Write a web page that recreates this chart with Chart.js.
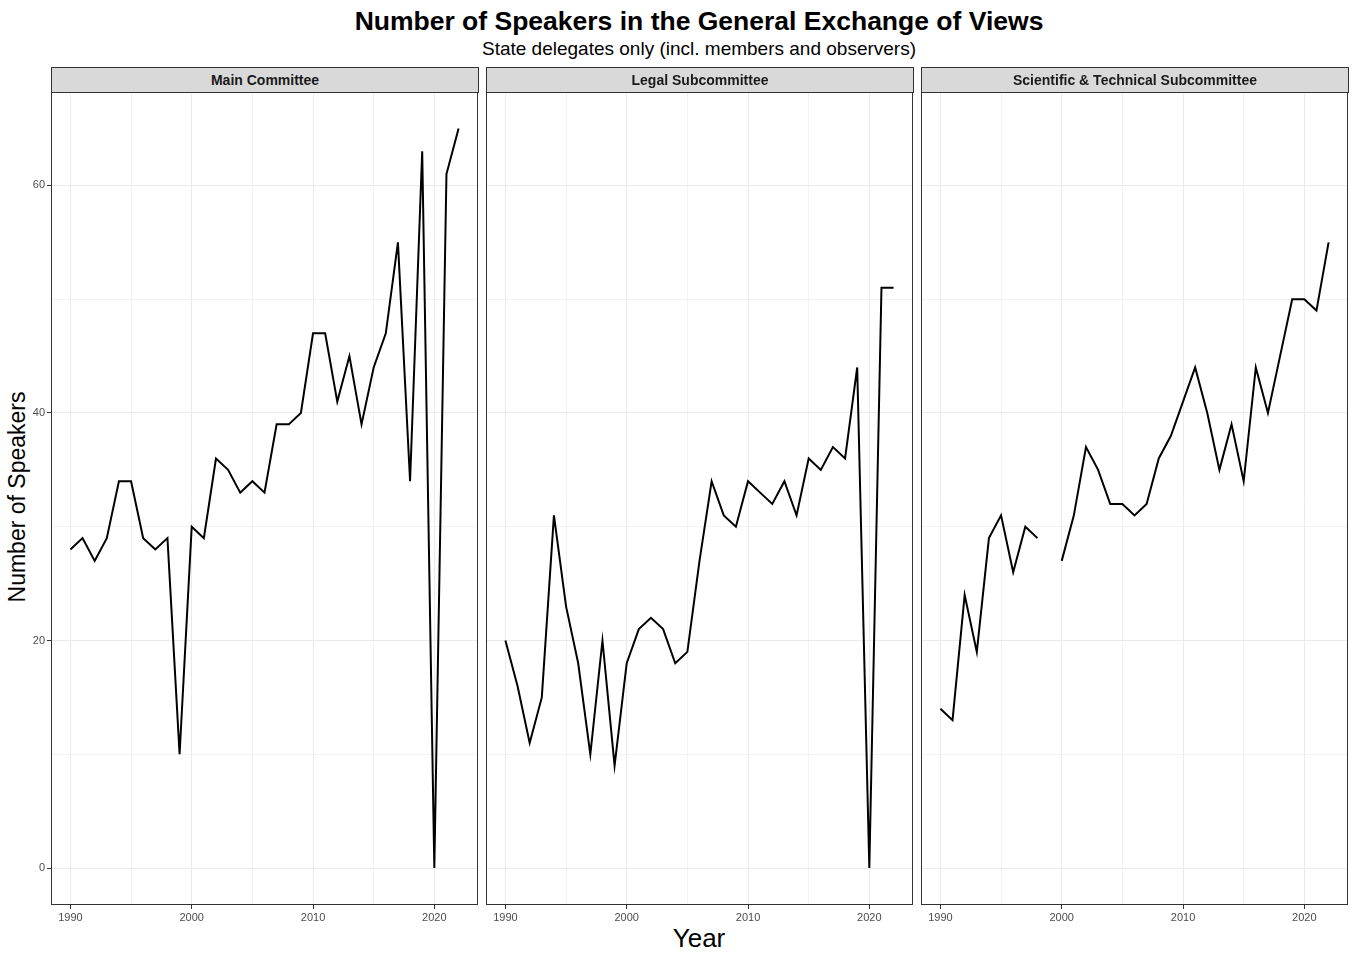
<!DOCTYPE html>
<html>
<head>
<meta charset="utf-8">
<script src="https://cdn.jsdelivr.net/npm/chart.js@4/dist/chart.umd.min.js"></script>
<style>
  html, body { margin:0; padding:0; background:#fff; }
  body { width:1352px; height:954px; position:relative; overflow:hidden; font-family:"Liberation Sans", Arial, sans-serif; }
  .abs { position:absolute; }
  .title { left:199px; width:1000px; top:6px; line-height:30px; font-size:26.5px; font-weight:bold; text-align:center; color:#000; }
  .subtitle { left:199px; width:1000px; top:38px; line-height:22px; font-size:19px; text-align:center; color:#000; }
  .strip { top:67px; height:26px; box-sizing:border-box; border:1px solid #333; background:#d9d9d9; font-size:14px; font-weight:bold; text-align:center; line-height:24px; color:#1a1a1a; z-index:2; }
  .ytitle { left:-183px; top:482px; width:400px; height:30px; line-height:30px; font-size:23px; text-align:center; transform:rotate(-90deg); color:#000; }
  .xtitle { left:599px; width:200px; top:923px; line-height:30px; font-size:26px; text-align:center; color:#000; }
  canvas { position:absolute; }
</style>
</head>
<body>
<div class="abs title">Number of Speakers in the General Exchange of Views</div>
<div class="abs subtitle">State delegates only (incl. members and observers)</div>
<div class="abs strip" style="left:51px;width:428px;">Main Committee</div>
<div class="abs strip" style="left:486px;width:428px;">Legal Subcommittee</div>
<div class="abs strip" style="left:921px;width:428px;">Scientific &amp; Technical Subcommittee</div>
<div class="abs ytitle">Number of Speakers</div>
<div class="abs xtitle">Year</div>

<div style="position:absolute;left:0;top:83px;width:483px;height:854px;"><canvas id="c1"></canvas></div>
<div style="position:absolute;left:483px;top:83px;width:435px;height:854px;"><canvas id="c2"></canvas></div>
<div style="position:absolute;left:918px;top:83px;width:434px;height:854px;"><canvas id="c3"></canvas></div>

<script>
const years = [1990,1991,1992,1993,1994,1995,1996,1997,1998,1999,
               2000,2001,2002,2003,2004,2005,2006,2007,2008,2009,
               2010,2011,2012,2013,2014,2015,2016,2017,2018,2019,
               2020,2021,2022];
const mainCommittee = [28,29,27,29,34,34,29,28,29,10,
                       30,29,36,35,33,34,33,39,39,40,
                       47,47,41,45,39,44,47,55,34,63,
                       0,61,65];
const legalSubcommittee = [20,16,11,15,31,23,18,10,20,9,
                           18,21,22,21,18,19,27,34,31,30,
                           34,33,32,34,31,36,35,37,36,44,
                           0,51,51];
const sciTechSubcommittee = [14,13,24,19,29,31,26,30,29,null,
                             27,31,37,35,32,32,31,32,36,38,
                             41,44,40,35,39,34,44,40,45,50,
                             50,49,55];
const xMajorTicks = [1990,2000,2010,2020];
const xMinorTicks = [1995,2005,2015];
const yMajorTicks = [0,20,40,60];
const yMinorTicks = [10,30,50];

const FONT = '"Liberation Sans", Arial, sans-serif';

const borderPlugin = {
  id: 'panelBorder',
  afterDatasetsDraw(chart) {
    const a = chart.chartArea, ctx = chart.ctx;
    ctx.save();
    ctx.strokeStyle = '#333333';
    ctx.lineWidth = 1;
    const l = Math.round(a.left) + 0.5, t = Math.round(a.top) + 0.5;
    const r = Math.round(a.right) - 0.5, b = Math.round(a.bottom) - 0.5;
    ctx.strokeRect(l, t, r - l, b - t);
    ctx.restore();
  }
};

function makeChart(id, values, showY, padLeft, padRight) {
  const pts = years.map((yr, i) => ({x: yr, y: values[i]}));
  const xAll = xMajorTicks.concat(xMinorTicks).sort((a,b)=>a-b);
  const yAll = yMajorTicks.concat(yMinorTicks).sort((a,b)=>a-b);
  return new Chart(document.getElementById(id), {
    type: 'line',
    data: { datasets: [{
      data: pts,
      borderColor: '#000000',
      borderWidth: 2,
      pointRadius: 0,
      pointHoverRadius: 0,
      tension: 0,
      spanGaps: false,
      fill: false
    }]},
    options: {
      responsive: true,
      maintainAspectRatio: false,
      animation: false,
      events: [],
      layout: { autoPadding: false, padding: { top: 5, right: padRight, left: padLeft, bottom: 0 } },
      plugins: { legend: { display: false }, tooltip: { enabled: false } },
      scales: {
        x: {
          type: 'linear',
          min: 1988.4, max: 2023.6,
          afterBuildTicks: s => { s.ticks = xAll.map(v => ({value: v})); },
          afterFit: s => { s.height = 32; },
          border: { display: false },
          grid: {
            color: '#ebebeb',
            lineWidth: c => (xMajorTicks.includes(c.tick && c.tick.value) ? 1 : 0.6),
            drawTicks: true,
            tickLength: 4,
            tickColor: c => (xMajorTicks.includes(c.tick && c.tick.value) ? '#333333' : 'rgba(0,0,0,0)'),
            tickWidth: 1
          },
          ticks: {
            autoSkip: false, maxRotation: 0, minRotation: 0,
            padding: 2,
            color: '#4d4d4d',
            font: { family: FONT, size: 11 },
            callback: v => (xMajorTicks.includes(v) ? String(v) : '')
          }
        },
        y: {
          type: 'linear',
          min: -3.25, max: 68.25,
          afterBuildTicks: s => { s.ticks = yAll.map(v => ({value: v})); },
          afterFit: s => { s.width = showY ? 51 : 0; },
          border: { display: false },
          grid: {
            color: '#ebebeb',
            lineWidth: c => (yMajorTicks.includes(c.tick && c.tick.value) ? 1 : 0.6),
            drawTicks: showY,
            tickLength: 4,
            tickColor: c => (showY && yMajorTicks.includes(c.tick && c.tick.value) ? '#333333' : 'rgba(0,0,0,0)'),
            tickWidth: 1
          },
          ticks: {
            display: true,
            padding: 2,
            color: showY ? '#4d4d4d' : 'rgba(0,0,0,0)',
            font: { family: FONT, size: 11 },
            callback: v => (yMajorTicks.includes(v) ? String(v) : '')
          }
        }
      }
    },
    plugins: [borderPlugin]
  });
}

makeChart('c1', mainCommittee, true, 0, 5);
makeChart('c2', legalSubcommittee, false, 3, 5);
makeChart('c3', sciTechSubcommittee, false, 3, 4);
</script>
</body>
</html>
